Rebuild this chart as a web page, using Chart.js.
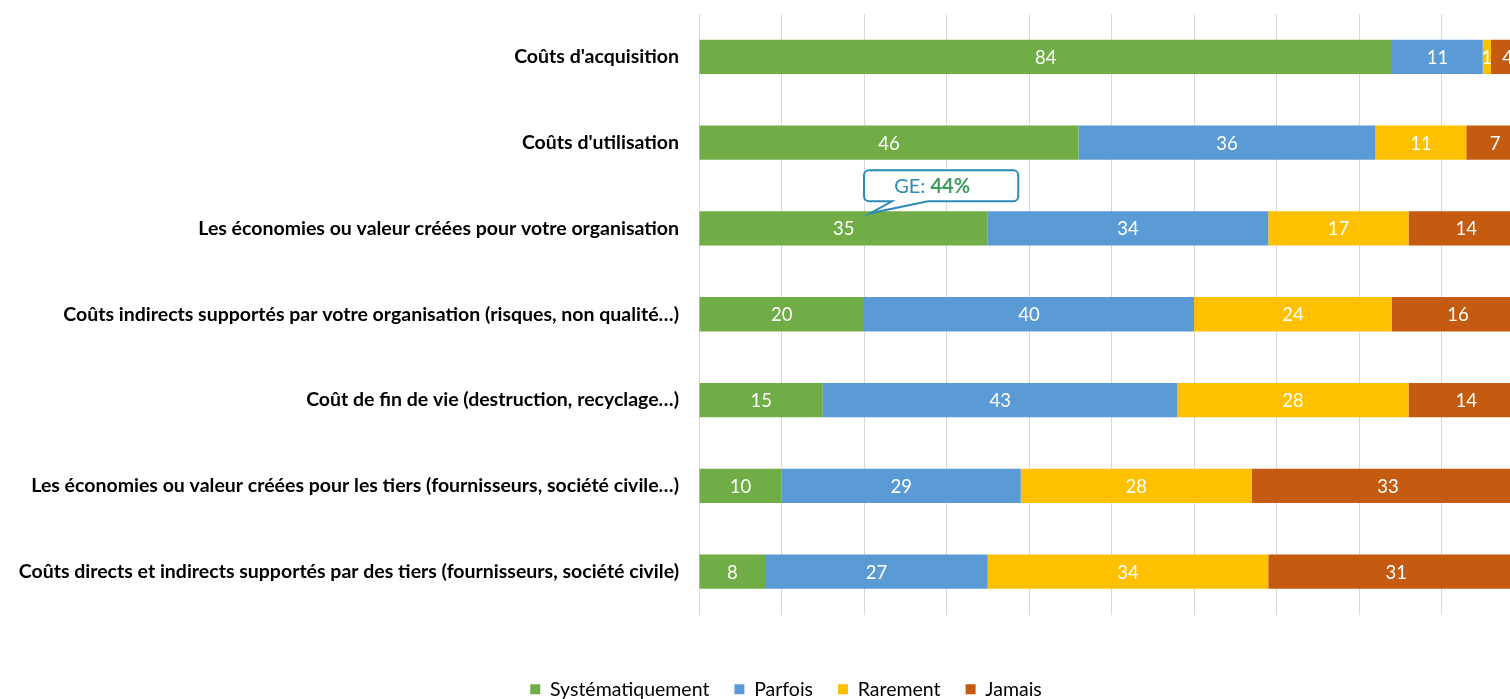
<!DOCTYPE html>
<html>
<head>
<meta charset="utf-8">
<script src="https://cdn.jsdelivr.net/npm/chart.js@4.4.0/dist/chart.umd.min.js"></script>
<style>
  html, body { margin: 0; padding: 0; background: #fff; overflow: hidden; }
  #wrap { width: 1572px; height: 709px; }
</style>
</head>
<body>
<div id="wrap"><canvas id="myChart" width="1572" height="709"></canvas></div>
<script>
// Données du graphique
var categories = [
    "Coûts d'acquisition",
    "Coûts d'utilisation",
    "Les économies ou valeur créées pour votre organisation",
    "Coûts indirects supportés par votre organisation (risques, non qualité…)",
    "Coût de fin de vie (destruction, recyclage…)",
    "Les économies ou valeur créées pour les tiers (fournisseurs, société civile…)",
    "Coûts directs et indirects supportés par des tiers (fournisseurs, société civile)"
];
var seriesNames = ['Systématiquement', 'Parfois', 'Rarement', 'Jamais'];
var systematiquement = [84, 46, 35, 20, 15, 10, 8];
var parfois = [11, 36, 34, 40, 43, 29, 27];
var rarement = [1, 11, 17, 24, 28, 28, 34];
var jamais = [4, 7, 14, 16, 14, 33, 31];
var axisMax = 100;
var axisStep = 10;

// Bulle "GE: 44%" sur la 3e catégorie
var calloutCategory = 2;
var calloutLabel = 'GE: ';
var calloutValue = '44%';
var calloutFrom = 20;
var calloutTo = 38.7;

var colors = ['#70AD47', '#5B9BD5', '#FFC000', '#C55A11'];
var fontName = 'Lato, "Open Sans", sans-serif';

// Étiquettes blanches au centre de chaque segment
var barLabels = {
    id: 'barLabels',
    afterDatasetsDraw: function (chart) {
        var ctx = chart.ctx;
        ctx.save();
        ctx.font = '18.5px ' + fontName;
        ctx.fillStyle = '#ffffff';
        ctx.textAlign = 'center';
        ctx.textBaseline = 'middle';
        chart.data.datasets.forEach(function (ds, i) {
            chart.getDatasetMeta(i).data.forEach(function (bar, j) {
                var p = bar.getCenterPoint();
                ctx.fillText(String(ds.data[j]), p.x, p.y + 1);
            });
        });
        ctx.restore();
    }
};

// Bulle de commentaire
var callout = {
    id: 'callout',
    afterDraw: function (chart) {
        var ctx = chart.ctx;
        var bar = chart.getDatasetMeta(0).data[calloutCategory];
        var xs = chart.scales.x;
        var barTop = bar.y - bar.height / 2;
        var left = xs.getPixelForValue(calloutFrom);
        var right = xs.getPixelForValue(calloutTo);
        var bottom = barTop - 10;
        var top = bottom - 31;
        var r = 5;

        ctx.save();
        ctx.beginPath();
        ctx.moveTo(left + r, top);
        ctx.lineTo(right - r, top);
        ctx.arcTo(right, top, right, top + r, r);
        ctx.lineTo(right, bottom - r);
        ctx.arcTo(right, bottom, right - r, bottom, r);
        ctx.lineTo(left + 64, bottom);
        ctx.lineTo(left + 6, barTop + 2);
        ctx.lineTo(left + 28, bottom);
        ctx.lineTo(left + r, bottom);
        ctx.arcTo(left, bottom, left, bottom - r, r);
        ctx.lineTo(left, top + r);
        ctx.arcTo(left, top, left + r, top, r);
        ctx.closePath();
        ctx.fillStyle = '#ffffff';
        ctx.fill();
        ctx.lineWidth = 2;
        ctx.strokeStyle = '#2E8BB5';
        ctx.stroke();

        var cy = (top + bottom) / 2 + 1;
        ctx.textBaseline = 'middle';
        ctx.textAlign = 'left';
        ctx.font = '20px ' + fontName;
        var w1 = ctx.measureText(calloutLabel).width;
        ctx.font = 'bold 20px ' + fontName;
        var w2 = ctx.measureText(calloutValue).width;
        var sx = (left + right) / 2 - (w1 + w2) / 2 - 9;
        ctx.font = '20px ' + fontName;
        ctx.fillStyle = '#2E8BB5';
        ctx.fillText(calloutLabel, sx, cy);
        ctx.font = 'bold 20px ' + fontName;
        ctx.fillStyle = '#3A9D5D';
        ctx.fillText(calloutValue, sx + w1, cy);
        ctx.restore();
    }
};

var seriesData = [systematiquement, parfois, rarement, jamais];

var ctx = document.getElementById('myChart').getContext('2d');
var barChart = new Chart(ctx, {
    type: 'bar',
    data: {
        labels: categories,
        datasets: seriesNames.map(function (name, i) {
            return {
                label: name,
                data: seriesData[i],
                backgroundColor: colors[i],
                borderWidth: 0,
                categoryPercentage: 1,
                barPercentage: 0.4
            };
        })
    },
    options: {
        indexAxis: 'y',
        responsive: false,
        animation: false,
        layout: { padding: { top: 14, right: 0, left: 0, bottom: 0 } },
        scales: {
            x: {
                stacked: true,
                min: 0,
                max: axisMax,
                ticks: { display: false, stepSize: axisStep },
                grid: { color: '#D9D9D9', lineWidth: 1, drawTicks: false },
                border: { display: false },
                afterFit: function (scale) {
                    scale.height = 40;
                    scale.paddingLeft = 0;
                    scale.paddingRight = 0;
                }
            },
            y: {
                stacked: true,
                grid: { display: false, drawTicks: false },
                border: { display: false },
                ticks: {
                    color: '#000000',
                    padding: 20,
                    font: { family: fontName, size: 19.5, weight: 'bold' }
                },
                afterFit: function (scale) {
                    scale.width = 699;
                    scale.paddingTop = 0;
                    scale.paddingBottom = 0;
                }
            },
            // axe vide à droite : réserve la marge sans décaler la légende
            yRight: {
                type: 'category',
                position: 'right',
                grid: { display: false, drawTicks: false },
                border: { display: false },
                ticks: { display: false },
                afterFit: function (scale) {
                    scale.width = 48;
                    scale.paddingTop = 0;
                    scale.paddingBottom = 0;
                }
            }
        },
        plugins: {
            legend: {
                position: 'bottom',
                labels: {
                    boxWidth: 10,
                    boxHeight: 10,
                    padding: 25,
                    color: '#000000',
                    font: { family: fontName, size: 19.5 }
                }
            },
            tooltip: { enabled: false }
        }
    },
    plugins: [barLabels, callout]
});
</script>
</body>
</html>
